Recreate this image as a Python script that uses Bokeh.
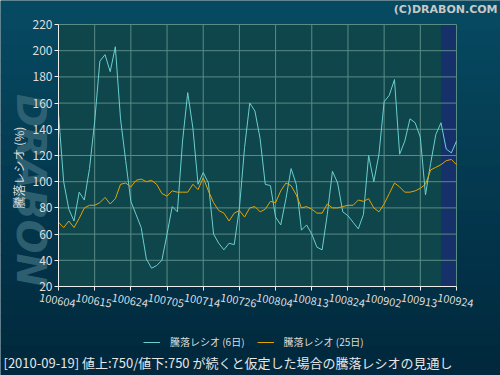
import math
from bokeh.plotting import figure
from bokeh.models import (Range1d, FixedTicker, BoxAnnotation, Label, Legend,
                          LegendItem)
from bokeh.core.properties import value
from bokeh.embed import file_html
from bokeh.resources import INLINE

# ---- data -------------------------------------------------------------
tick_labels = ["100604", "100615", "100624", "100705", "100714", "100726",
               "100804", "100813", "100824", "100902", "100913", "100924"]
tick_step = 7
y_ticks = [20, 40, 60, 80, 100, 120, 140, 160, 180, 200, 220]

ratio_6 = [152, 100, 79, 70, 92, 86, 110, 146, 192, 197,
           184, 203, 148, 116, 85, 75, 65, 41, 34, 36,
           40, 60, 81, 77, 131, 168, 141, 98, 107, 99,
           60, 53, 48, 53, 52, 80, 126, 160, 154, 133,
           98, 97, 73, 67, 87, 110, 98, 63, 67, 60,
           50, 48, 75, 108, 99, 77, 74, 69, 64, 75,
           120, 100, 121, 161, 166, 178, 121, 131, 148, 145,
           134, 90, 114, 136, 145, 125, 122, 131]

ratio_25 = [69, 65, 70, 65, 72, 80, 82, 82, 84, 88,
            83, 87, 98, 99, 96, 101, 102, 100, 101, 98,
            91, 89, 93, 92, 92, 92, 98, 94, 103, 93,
            84, 78, 76, 70, 76, 78, 73, 80, 81, 77,
            79, 85, 84, 93, 99, 97, 90, 80, 81, 79,
            76, 76, 83, 80, 80, 81, 82, 82, 86, 85,
            87, 80, 77, 83, 91, 99, 96, 92, 92, 93,
            95, 98, 109, 111, 113, 116, 117, 113]

proj_start = 74          # first projected (assumed) point
series_names = ["騰落レシオ (6日)", "騰落レシオ (25日)"]
y_title = "騰落レシオ (%)"
footer = "[2010-09-19] 値上:750/値下:750 が続くと仮定した場合の騰落レシオの見通し"
credit = "(C)DRABON.COM"
watermark = "DRABON"

x = list(range(len(ratio_6)))
n_last = len(x) - 1
tick_pos = list(range(0, n_last + 1, tick_step))
y_lo, y_hi = y_ticks[0], y_ticks[-1]

# ---- layout (canvas pixels) -------------------------------------------
W, H = 500, 375
PL, PR, PT, PB = 58, 456, 24, 286          # plot-area edges on the canvas
kx = (PR - PL) / (n_last - 0)
ky = (PB - PT) / (y_hi - y_lo)
x_range = Range1d(0 - PL / kx, n_last + (W - PR) / kx)
y_range = Range1d(y_lo - (H - PB) / ky, y_hi + PT / ky)

BG = "#03354c"
PLOT_BG = "#0f464b"
GRID = "#5a8c86"
TXT = "#dddddd"
JP = "Noto Sans CJK JP"

p = figure(width=W, height=H, output_backend="svg", toolbar_location=None,
           x_range=x_range, y_range=y_range, title=None,
           min_border=0, min_border_left=0, min_border_right=0,
           min_border_top=0, min_border_bottom=0)
p.background_fill_color = BG
p.border_fill_color = BG
p.outline_line_color = None
p.xgrid.visible = False
p.ygrid.visible = False

# soft vertical background gradient (lighter teal at the top)
top_rgb, bot_rgb = (6, 74, 98), (1, 40, 60)
n_bands = 25
for k in range(n_bands):
    t = k / (n_bands - 1)
    c = tuple(round(a + (b - a) * t) for a, b in zip(top_rgb, bot_rgb))
    y0 = H * k / n_bands
    y1 = H * (k + 1) / n_bands
    p.add_layout(BoxAnnotation(left=0, right=W, top=H - y0, bottom=H - y1 - 0.5,
                               left_units="screen", right_units="screen",
                               top_units="screen", bottom_units="screen",
                               fill_color="#%02x%02x%02x" % c, fill_alpha=1.0,
                               line_alpha=0, level="image"))

# watermark (behind the axis texts)
p.add_layout(Label(x=30, y=H - 190, x_units="screen", y_units="screen",
                   text=watermark, angle=-math.pi / 2, text_align="center",
                   text_baseline="middle", text_font="DejaVu Sans",
                   text_font_style="bold italic", text_font_size="40px",
                   text_color="#346777", text_alpha=0.85, level="image"))

# plot area and projection band
p.add_layout(BoxAnnotation(left=0, right=n_last, bottom=y_lo, top=y_hi,
                           fill_color=PLOT_BG, fill_alpha=1.0,
                           line_color="#2f7050", line_width=1, level="image"))
p.add_layout(BoxAnnotation(left=proj_start, right=n_last, bottom=y_lo, top=y_hi,
                           fill_color="#16306a", fill_alpha=1.0, line_alpha=0,
                           level="image"))

# grid lines
p.segment(x0=tick_pos, y0=[y_lo] * len(tick_pos), x1=tick_pos,
          y1=[y_hi] * len(tick_pos), line_color=GRID, line_width=1)
p.segment(x0=[0] * len(y_ticks), y0=y_ticks, x1=[n_last] * len(y_ticks),
          y1=y_ticks, line_color=GRID, line_width=1)

# axes drawn at the plot-area edges
p.xaxis.fixed_location = y_lo
p.yaxis.fixed_location = 0
p.xaxis.bounds = (0, n_last)
p.yaxis.bounds = (y_lo, y_hi)
p.xaxis.ticker = FixedTicker(ticks=tick_pos)
p.xaxis.major_label_overrides = {t: "" for t in tick_pos}
p.yaxis.ticker = FixedTicker(ticks=y_ticks)
for ax in (p.xaxis, p.yaxis):
    ax.axis_line_color = "#eeeeee"
    ax.major_tick_line_color = "#eeeeee"
    ax.major_tick_out = 4
    ax.major_tick_in = 0
    ax.minor_tick_line_color = None
    ax.major_label_text_color = TXT
    ax.major_label_text_font = JP
    ax.major_label_text_font_size = "12px"
p.yaxis.major_label_standoff = 2

# slanted date labels, centred on their ticks
p.text(x=tick_pos, y=[y_lo] * len(tick_pos), text=tick_labels, angle=-0.18,
       text_align="center", text_baseline="middle", x_offset=-1, y_offset=14,
       text_font=value(JP), text_font_size="11px", text_color=TXT)

# series
r6 = p.line(x, ratio_6, line_color="#6acfcf", line_width=1)
r25 = p.line(x, ratio_25, line_color="#e8a300", line_width=1)

legend = Legend(items=[LegendItem(label=series_names[0], renderers=[r6]),
                       LegendItem(label=series_names[1], renderers=[r25])],
                orientation="horizontal", location=(143, H - 349),
                padding=0, margin=0, spacing=12, label_standoff=10,
                glyph_width=17, glyph_height=12, label_height=14,
                label_text_font=JP, label_text_font_size="10px",
                label_text_color=TXT,
                background_fill_alpha=0, border_line_alpha=0)
p.add_layout(legend)

# y axis title
p.add_layout(Label(x=18, y=H - 167, x_units="screen", y_units="screen",
                   text=y_title, angle=math.pi / 2, text_align="center",
                   text_baseline="middle", text_font=JP,
                   text_font_size="12px", text_color=TXT))

# credit
p.add_layout(Label(x=497, y=H - 2, x_units="screen", y_units="screen",
                   text=credit, text_align="right", text_baseline="top",
                   text_font="DejaVu Sans", text_font_style="bold",
                   text_font_size="11px", text_color="#c8c8c8"))

# footer
p.add_layout(Label(x=3, y=H - 362, x_units="screen", y_units="screen",
                   text=footer, text_align="left", text_baseline="middle",
                   text_font=JP, text_font_size="13px", text_color="#e6e6e6"))

html = file_html(p, INLINE)
html = html.replace("<body>", '<body style="background-color:%s;">' % BG, 1)
open("out.html", "w").write(html)
